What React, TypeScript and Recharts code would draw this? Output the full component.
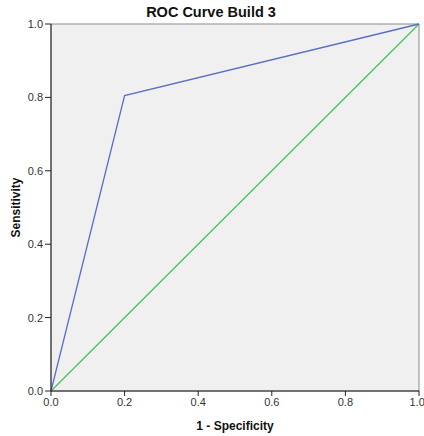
import React from 'react';
import {
  LineChart,
  Line,
  XAxis,
  YAxis,
  ReferenceArea,
  Label,
} from 'recharts';

// ROC curve points (1 - specificity, sensitivity)
const rocX = [0, 0.2, 1];
const rocY = [0, 0.805, 1];

// reference (chance) diagonal
const diagX = [0, 1];
const diagY = [0, 1];

const ticks = [0, 0.2, 0.4, 0.6, 0.8, 1];

const rocData = rocX.map((x, i) => ({ x, y: rocY[i] }));
const diagData = diagX.map((x, i) => ({ x, y: diagY[i] }));

const FONT = '"Liberation Sans", Arial, sans-serif';
const fmt = (v: number) => v.toFixed(1);

export default function App() {
  return (
    <div style={{ position: 'absolute', left: 0, top: 0, width: 424, height: 436, background: '#fff' }}>
      <LineChart
        width={424}
        height={436}
        margin={{ top: 24, right: 5, bottom: 0, left: 0 }}
        style={{ fontFamily: FONT }}
      >
        <ReferenceArea
          x1={0}
          x2={1}
          y1={0}
          y2={1}
          fill="#f0f0f0"
          fillOpacity={1}
          stroke="#8a8a8a"
          strokeWidth={1}
          ifOverflow="visible"
        />
        <XAxis
          type="number"
          dataKey="x"
          domain={[0, 1]}
          ticks={ticks}
          tickFormatter={fmt}
          height={45}
          tickSize={5}
          stroke="#222"
          tick={{ fill: '#333', fontSize: 11 }}
          allowDuplicatedCategory={false}
        >
          <Label
            value="1 - Specificity"
            position="insideBottom"
            offset={6}
            style={{ fontWeight: 'bold', fontSize: 12, fill: '#111' }}
          />
        </XAxis>
        <YAxis
          type="number"
          dataKey="y"
          domain={[0, 1]}
          ticks={ticks}
          tickFormatter={fmt}
          width={51}
          tickSize={6}
          stroke="#222"
          tick={{ fill: '#333', fontSize: 11 }}
        >
          <Label
            value="Sensitivity"
            angle={-90}
            position="insideLeft"
            offset={16}
            style={{ fontWeight: 'bold', fontSize: 12, fill: '#111', textAnchor: 'middle' }}
          />
        </YAxis>
        <Line
          data={diagData}
          dataKey="y"
          stroke="#4cc25c"
          strokeWidth={1.3}
          dot={false}
          isAnimationActive={false}
        />
        <Line
          data={rocData}
          dataKey="y"
          stroke="#5a6ec4"
          strokeWidth={1.3}
          dot={false}
          isAnimationActive={false}
        />
        <text
          x={211}
          y={17}
          textAnchor="middle"
          style={{ fontFamily: FONT, fontWeight: 'bold', fontSize: 14.5, fill: '#111' }}
        >
          ROC Curve Build 3
        </text>
      </LineChart>
    </div>
  );
}
